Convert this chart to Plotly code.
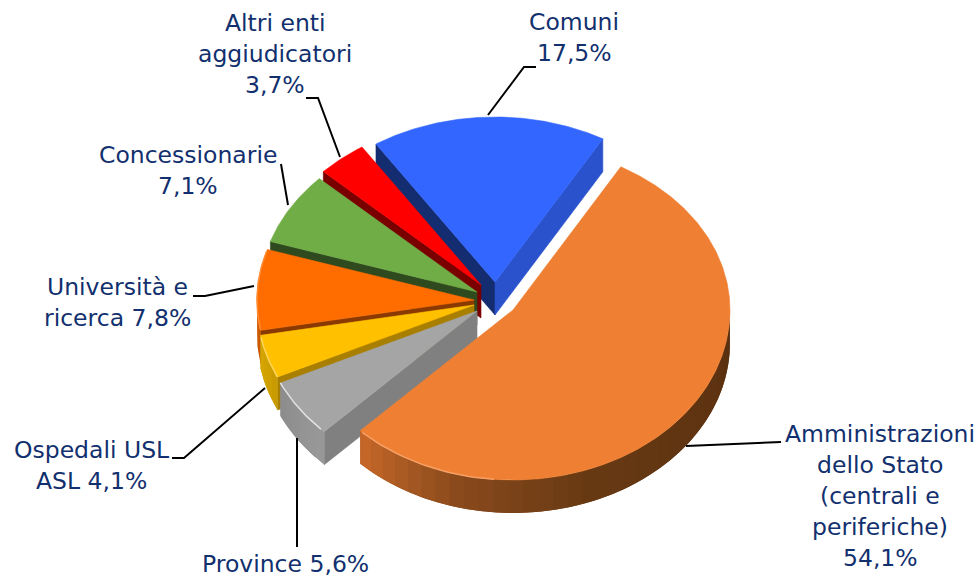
import numpy as np
import plotly.graph_objects as go

# ---- data (clockwise from the Amministrazioni slice) ----
categories = ["Amministrazioni dello Stato (centrali e periferiche)", "Province",
              "Ospedali USL ASL", "Università e ricerca", "Concessionarie",
              "Altri enti aggiudicatori", "Comuni"]
values = [54.1, 5.6, 4.1, 7.8, 7.1, 3.7, 17.5]
label_lines = [
    ["Amministrazioni", "dello Stato", "(centrali e", "periferiche)", "54,1%"],
    ["Province 5,6%"],
    ["Ospedali USL", "ASL 4,1%"],
    ["Università e", "ricerca 7,8%"],
    ["Concessionarie", "7,1%"],
    ["Altri enti", "aggiudicatori", "3,7%"],
    ["Comuni", "17,5%"],
]

# ---- styles and layout of the pseudo-3D pie ----
top_colors = ["#ef8033", "#a5a5a5", "#ffc000", "#ff6d00", "#70ad47", "#ff0000", "#3366ff"]
start_face = ["#ef8033", "#808080", "#a87f00", "#8a3a00", "#2f4a1e", "#7a0000", "#142c70"]
end_face = ["#ef8033", "#808080", "#a87f00", "#8a3a00", "#2f4a1e", "#7a0000", "#2a52cc"]
wall_stops = [
    [(90, "#5a3010"), (160, "#683a14"), (195, "#8a4a1c"), (225, "#c8692a")],
    [(225, "#9a9a9a"), (245, "#8c8c8c")],
    [(245, "#c99a00"), (260, "#d8a800")],
    [(260, "#c85500"), (270, "#d86000")],
    None, None, None,
]
rim = [("#f7a066", 185, 224), ("#e2e2e2", 226, 245), ("#ffd65c", 245, 259), ("#ff8c33", 260, 287),
       None, None, None]
apex_x = [513, 477, 474, 474, 477, 481, 495]
apex_y = [310, 311, 305, 300, 292, 285, 282]
START_ANGLE = 29.8
RX, RY_BACK, RY_FRONT, DEPTH = 217, 165, 170, 33
TEXT = "#12306e"
FONT = "DejaVu Sans"
FONT_SIZE = 23.5
LINE_PITCH = 31

label_x = [880, 285, 91, 117, 188, 275, 574]
label_y = [434, 564, 450, 287, 155, 23, 22]
leader_x = [[686, 781], [297, 297], [265, 184, 172], [254, 205, 193], [288, 281], [340, 318, 306], [488, 524, 536]]
leader_y = [[446, 442], [438, 547], [388, 458, 458], [286, 296, 296], [205, 164], [157, 98, 98], [115, 67, 67]]


def hex2rgb(c):
    return np.array([int(c[i:i + 2], 16) for i in (1, 3, 5)], float)


def stop_color(stops, th):
    ths = [s[0] for s in stops]
    rgb = np.array([hex2rgb(s[1]) for s in stops])
    v = [np.interp(th, ths, rgb[:, k]) for k in range(3)]
    return "rgb(%d,%d,%d)" % tuple(v)


def arc(ax, ay, a0, a1, n=60):
    t = np.radians(np.linspace(a0, a1, n))
    c = np.cos(t)
    return ax + RX * np.sin(t), ay - np.where(c < 0, RY_FRONT, RY_BACK) * c


fig = go.Figure()


def poly(xs, ys, color, lw=0.6):
    fig.add_trace(go.Scatter(x=list(xs), y=list(ys), mode="lines", fill="toself", fillcolor=color,
                             line=dict(color=color, width=lw), hoverinfo="skip", showlegend=False))


# slice angles come from the values
spans = np.array(values) / sum(values) * 360
starts = START_ANGLE + np.concatenate([[0], np.cumsum(spans)[:-1]])
ends = starts + spans

# paint back to front
for i in [6, 5, 4, 3, 2, 1, 0]:
    s, e, ax, ay = starts[i], ends[i], apex_x[i], apex_y[i]
    if np.sin(np.radians(s)) < 0:  # leading radial face
        x, y = arc(ax, ay, s, s, 1)
        poly([ax, x[0], x[0], ax, ax], [ay, y[0], y[0] + DEPTH, ay + DEPTH, ay], start_face[i])
    if np.sin(np.radians(e)) > 0:  # trailing radial face
        x, y = arc(ax, ay, e, e, 1)
        poly([ax, x[0], x[0], ax, ax], [ay, y[0], y[0] + DEPTH, ay + DEPTH, ay], end_face[i])
    lo, hi = max(s, 90), min(e, 270)
    if wall_stops[i] is not None and lo < hi:  # outer wall, painted as overlapping shaded strips
        edges = np.linspace(lo, hi, int((hi - lo) / 4) + 2)
        step = edges[1] - edges[0]
        for a0, a1 in zip(edges[:-1], edges[1:]):
            x, y = arc(ax, ay, a0, min(a1 + step, hi), 6)
            poly(np.r_[x, x[::-1], x[0]], np.r_[y, y[::-1] + DEPTH, y[0]],
                 stop_color(wall_stops[i], (a0 + a1) / 2), lw=0)
    x, y = arc(ax, ay, s, e, max(int(e - s) * 2, 8))
    poly(np.r_[ax, x, ax], np.r_[ay, y, ay], top_colors[i])
    if rim[i] is not None:
        c, a0, a1 = rim[i]
        x, y = arc(ax, ay, a0, a1, 30)
        fig.add_trace(go.Scatter(x=x, y=y, mode="lines", line=dict(color=c, width=1.5),
                                 hoverinfo="skip", showlegend=False))

# leader lines
for lx, ly in zip(leader_x, leader_y):
    fig.add_trace(go.Scatter(x=lx, y=ly, mode="lines", line=dict(color="#000000", width=2),
                             hoverinfo="skip", showlegend=False))

# labels
annotations = []
for lines, lxc, lyc in zip(label_lines, label_x, label_y):
    for j, t in enumerate(lines):
        annotations.append(dict(x=lxc, y=lyc + j * LINE_PITCH, text=t, showarrow=False, xref="x", yref="y",
                                xanchor="center", yanchor="middle",
                                font=dict(family=FONT, size=FONT_SIZE, color=TEXT)))

fig.update_layout(
    width=979, height=578, margin=dict(l=0, r=0, t=0, b=0),
    paper_bgcolor="white", plot_bgcolor="white", showlegend=False,
    xaxis=dict(range=[0, 979], visible=False, fixedrange=True),
    yaxis=dict(range=[578, 0], visible=False, fixedrange=True),
    annotations=annotations,
)
fig.write_html("out.html", config={"displayModeBar": False},
               post_script="document.body.style.margin='0';document.body.style.overflow='hidden';")
